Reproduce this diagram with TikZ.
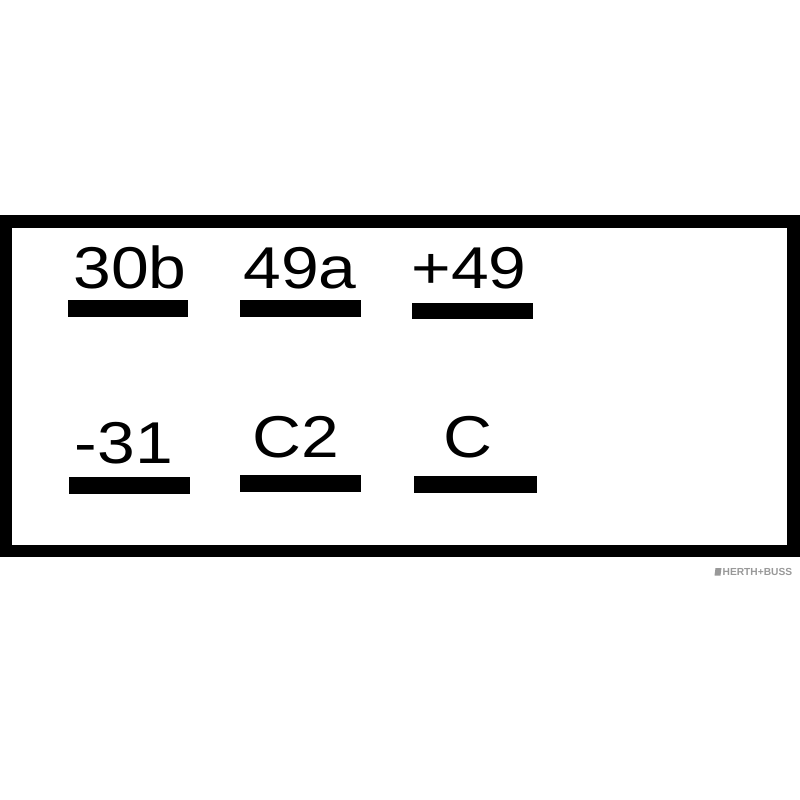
\documentclass[tikz,border=0pt]{standalone}
\usepackage{fontspec}
\setmainfont{Liberation Sans}
\begin{document}
\begin{tikzpicture}[x=1pt,y=-1pt,
  lbl/.style={anchor=base,inner sep=0pt,font=\fontsize{59}{59}\selectfont,xscale=1.15,transform shape},
  bar/.style={fill=black,draw=none},
  frame/.style={draw=black,line width=12.5pt}]
\useasboundingbox (0,0) rectangle (800,800);
\fill[white] (0,0) rectangle (800,800);
\draw[frame] (6,221.5) rectangle (793.5,551);
% top row
\node[lbl] (t1) at (130,288) {30b};
\node[lbl] (t2) at (300,288) {49a};
\node[lbl] (t3) at (469,288) {+49};
\fill[bar] (68,300) rectangle (188,317);
\fill[bar] (240,300) rectangle (361,317);
\fill[bar] (412,303) rectangle (533,319);
% bottom row
\node[lbl] (b1) at (124,463) {-31};
\node[lbl] (b2) at (296,457) {C2};
\node[lbl] (b3) at (468,457) {C};
\fill[bar] (69,477) rectangle (190,494);
\fill[bar] (240,475) rectangle (361,492);
\fill[bar] (414,476) rectangle (537,493);
% watermark
\fill[black!40] (715.5,568) -- (721.5,568) -- (720.5,575.5) -- (714.5,575.5) -- cycle;
\node[anchor=base west,inner sep=0pt,text=black!40,font=\fontsize{10.2}{10.2}\selectfont\bfseries] (wm) at (722.5,575.5) {HERTH+BUSS};
\end{tikzpicture}
\end{document}
